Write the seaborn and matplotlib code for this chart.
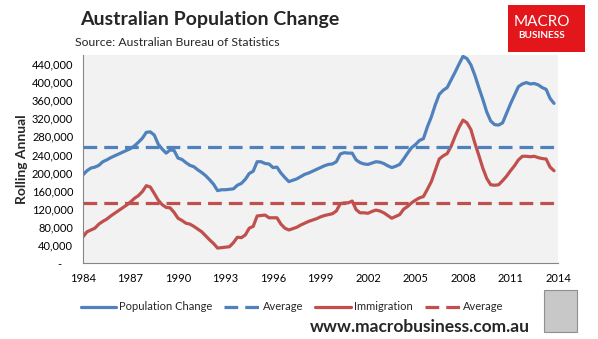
import numpy as np
import pandas as pd
import matplotlib
matplotlib.use("Agg")
import matplotlib.pyplot as plt
import seaborn as sns
from matplotlib.lines import Line2D
from matplotlib.patches import Rectangle
from matplotlib.ticker import FuncFormatter

# ---------------- data (thousands, rolling annual, quarterly from 1984) ----------------
start_year = 1984.0
population_change = [
    195, 204, 210, 212, 216, 224, 228, 233, 237, 241, 245, 249,
    253, 259, 267, 276, 289, 290, 283, 263, 252, 243, 250, 249,
    232, 229, 222, 216, 213, 206, 200, 193, 184, 174, 160, 162,
    162, 163, 164, 172, 176, 185, 198, 203, 224, 224, 220, 219,
    211, 212, 199, 189, 180, 183, 186, 191, 196, 199, 203, 207,
    211, 215, 218, 219, 224, 241, 244, 243, 243, 228, 222, 219,
    218, 221, 224, 223, 220, 215, 211, 214, 218, 230, 243, 255,
    262, 271, 275, 301, 323, 350, 373, 382, 388, 405, 422, 440,
    457, 452, 438, 415, 388, 362, 334, 314, 306, 305, 310, 331,
    352, 371, 390, 396, 399, 396, 397, 394, 388, 384, 364, 353,
]
immigration = [
    58, 69, 73, 77, 86, 92, 97, 104, 110, 116, 122, 128,
    135, 143, 149, 158, 171, 168, 154, 139, 129, 123, 122, 112,
    99, 94, 88, 86, 81, 75, 69, 60, 51, 43, 33, 34,
    35, 36, 45, 57, 56, 62, 77, 81, 104, 105, 106, 100,
    100, 100, 86, 77, 73, 76, 79, 84, 88, 92, 95, 98,
    102, 105, 107, 109, 115, 131, 133, 133, 137, 118, 111, 111,
    110, 114, 117, 115, 111, 105, 99, 103, 107, 119, 125, 133,
    139, 144, 147, 163, 180, 205, 230, 237, 242, 258, 280, 300,
    316, 310, 295, 265, 238, 210, 187, 173, 172, 173, 182, 192,
    204, 215, 228, 236, 236, 235, 236, 233, 231, 230, 212, 204,
]
population_average = 257000
immigration_average = 132000
year_ticks = [1984, 1987, 1990, 1993, 1996, 1999, 2002, 2005, 2008, 2011, 2014]
value_ticks = list(range(0, 440001, 40000))

series_names = ["Population Change", "Immigration"]
colors = {"Population Change": "#4F81BD", "Immigration": "#C0504D"}

years = start_year + np.arange(len(population_change)) * 0.25
df = pd.concat([
    pd.DataFrame({"year": years, "value": np.array(population_change) * 1000, "series": series_names[0]}),
    pd.DataFrame({"year": years, "value": np.array(immigration) * 1000, "series": series_names[1]}),
])

# ---------------- figure ----------------
sns.set_style("white")
plt.rcParams["font.family"] = ["Lato", "DejaVu Sans"]

DASH = (0, (4.3, 2.2))
LW = 2.3

fig = plt.figure(figsize=(5.98, 3.39), dpi=100)
ax = fig.add_axes([83 / 598, 1 - 263 / 339, (558 - 83) / 598, (263 - 55) / 339])
ax.set_facecolor("#F2F2F2")

sns.lineplot(data=df, x="year", y="value", hue="series", palette=colors,
             linewidth=LW, ax=ax, legend=False, estimator=None)
ax.axhline(population_average, color=colors["Population Change"], lw=LW, ls=DASH)
ax.axhline(immigration_average, color=colors["Immigration"], lw=LW, ls=DASH)

ax.set_xlim(1984, 2014)
ax.set_ylim(0, 460000)
ax.set_xticks(year_ticks)
ax.set_yticks(value_ticks)
ax.yaxis.set_major_formatter(FuncFormatter(lambda v, p: "-    " if v == 0 else f"{int(v):,}"))
ax.tick_params(axis="both", direction="out", length=4, width=0.8, color="#868686",
               labelsize=8, labelcolor="#000000", pad=3)
for s in ["top", "right"]:
    ax.spines[s].set_visible(False)
for s in ["left", "bottom"]:
    ax.spines[s].set_color("#868686")
    ax.spines[s].set_linewidth(0.8)
ax.set_xlabel("")
ax.set_ylabel("Rolling Annual", fontsize=10, fontweight="bold", labelpad=3)
ax.grid(False)

# titles
fig.text(80 / 598, 1 - 20 / 339, "Australian Population Change", fontsize=14, fontweight="bold",
         ha="left", va="center")
fig.text(75 / 598, 1 - 43 / 339, "Source: Australian Bureau of Statistics", fontsize=8.8,
         ha="left", va="center")

# legend
handles = [
    Line2D([], [], color=colors["Population Change"], lw=LW),
    Line2D([], [], color=colors["Population Change"], lw=LW, ls=DASH),
    Line2D([], [], color=colors["Immigration"], lw=LW),
    Line2D([], [], color=colors["Immigration"], lw=LW, ls=DASH),
]
labels = ["Population Change", "Average", "Immigration", "Average"]
fig.legend(handles, labels, loc="center", bbox_to_anchor=(292 / 598, 1 - 307 / 339), ncol=4,
           frameon=False, fontsize=8, handlelength=3.2, handletextpad=0.25, columnspacing=1.1)

# website
fig.text(530 / 598, 1 - 327 / 339, "www.macrobusiness.com.au", fontsize=12.5, fontweight="bold",
         ha="right", va="center")

# logo box
fig.patches.append(Rectangle((508 / 598, 1 - 52 / 339), 77 / 598, 47 / 339, transform=fig.transFigure,
                             facecolor="#E2161B", edgecolor="none", zorder=5))
fig.text(541.5 / 598, 1 - 22 / 339, "MACRO", fontsize=11, color="white", ha="center", va="center",
         zorder=6)
fig.text(541.5 / 598, 1 - 36 / 339, "BUSINESS", fontsize=7.2, color="white", ha="center",
         va="center", zorder=6, fontweight="bold")

# wolf image placeholder
fig.patches.append(Rectangle((544 / 598, 1 - 332 / 339), 33 / 598, 42 / 339, transform=fig.transFigure,
                             facecolor="#C8C8C8", edgecolor="#909090", lw=0.8, zorder=5))

fig.savefig("out.png", dpi=100)
